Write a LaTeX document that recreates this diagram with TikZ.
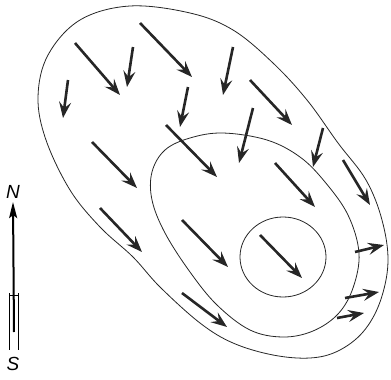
\documentclass[tikz,border=0pt]{standalone}
\usepackage{fontspec}
\setsansfont{Liberation Sans}
\usetikzlibrary{arrows.meta}

\begin{document}
\begin{tikzpicture}[x=1pt, y=-1pt,
  contour/.style={line width=0.8pt, black!85},
  flow/.style={line width=2.6pt, black!85, -{Stealth[length=16pt, width=12pt, inset=6pt]}},
  needle/.style={line width=2pt, -{Stealth[length=16pt, width=8pt, inset=3pt]}},
  pole/.style={font=\sffamily\slshape\fontsize{19}{19}\selectfont}
]
  \useasboundingbox (0,0) rectangle (391,380);
  % contours
  \draw[contour] plot[smooth cycle, tension=0.6] coordinates {
    (130,6) (190,13) (233,30) (273,63) (307,100) (338,143) (366,180)
    (382,220) (388,262) (380,302) (363,332) (338,351) (310,358) (273,355)
    (233,343) (200,323) (160,287) (133,257) (100,227) (70,190) (46,140)
    (38,97) (48,55) (80,20)};
  \draw[contour] plot[smooth cycle, tension=0.6] coordinates {
    (152,172) (165,150) (190,138) (223,133) (267,140) (300,157) (325,182)
    (348,215) (359,253) (353,288) (338,314) (313,331) (283,337) (250,330)
    (217,305) (190,272) (165,233) (152,200)};
  \draw[contour] (283,257) ellipse[x radius=43, y radius=40];
  % flow arrows
  \foreach \xa/\ya/\xb/\yb in {
    140/23/192/77, 133/47/127/87, 75/43/120/95, 68/80/63/118,
    233/47/223/95, 250/80/292/125, 188/87/180/127, 166/125/217/177,
    253/108/239/163, 323/128/313/167, 92/142/137/188, 275/163/315/207,
    343/160/370/205, 100/208/142/252, 182/220/228/267, 260/235/302/278,
    182/293/227/327, 355/252/384/245, 345/298/379/292, 337/318/364/313}
    \draw[flow] (\xa,\ya) -- (\xb,\yb);
  % compass
  \node[pole] (north) at (13,192) {N};
  \node[pole] (south) at (13,364) {S};
  \coordinate (tail) at (14,332);
  \draw[needle] (tail) -- (north.south);
  \draw[line width=0.8pt] (9.5,293) -- (9.5,350) (18.5,293) -- (18.5,350);
  \draw[line width=0.6pt] (9.5,295) -- (18.5,295);
\end{tikzpicture}
\end{document}
